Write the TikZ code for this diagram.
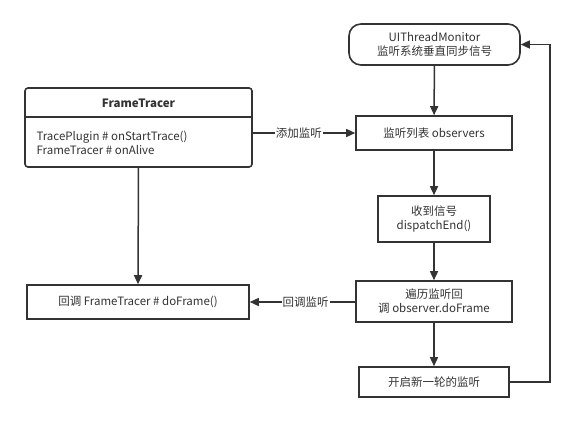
\documentclass[tikz,border=0pt]{standalone}
\usepackage{fontspec}
\setmainfont{Noto Sans CJK SC}
\usetikzlibrary{arrows.meta}
\definecolor{ink}{HTML}{333333}
\begin{document}
\begin{tikzpicture}[x=1pt,y=-1pt,
  box/.style={draw=ink,line width=1.6pt,fill=white,text=ink,align=center,inner sep=0pt,font=\fontsize{11.5}{14}\selectfont},
  conn/.style={draw=ink,line width=1.5pt,-{Triangle[length=9pt,width=8pt]}},
  lbl/.style={fill=white,text=ink,inner sep=1pt,font=\fontsize{11.5}{14}\selectfont}]
\useasboundingbox (0,0) rectangle (574,424);
\node[box,rounded corners=12pt,minimum width=171pt,minimum height=41pt] (mon) at (434.5,44.5) {UIThreadMonitor\\监听系统垂直同步信号};
\node[box,minimum width=156pt,minimum height=34pt] (obs) at (434,133) {监听列表 observers};
\node[box,minimum width=112pt,minimum height=46pt] (recv) at (434,219) {收到信号\\dispatchEnd()};
\node[box,minimum width=156pt,minimum height=41pt] (iter) at (434,301.5) {遍历监听回\\调 observer.doFrame};
\node[box,minimum width=150pt,minimum height=30pt] (next) at (434,382) {开启新一轮的监听};
\node[box,minimum width=222pt,minimum height=34pt] (cb) at (138,302) {回调 FrameTracer \# doFrame()};
\node[box,rounded corners=3pt,minimum width=227pt,minimum height=79pt] (ft) at (138.5,127.5) {};
\draw[ink,line width=1.6pt] (25,117) -- (252,117);
\node[text=ink,font=\fontsize{11.5}{14}\selectfont\bfseries] (fth) at (138.5,103) {FrameTracer};
\node[text=ink,align=left,anchor=west,font=\fontsize{11.5}{14}\selectfont] (ftb) at (33,143) {TracePlugin \# onStartTrace()\\FrameTracer \# onAlive};
\coordinate (c1) at (550,382);
\coordinate (c2) at (550,44.5);
\draw[conn] (mon) -- (obs);
\draw[conn] (obs) -- (recv);
\draw[conn] (recv) -- (iter);
\draw[conn] (iter) -- (next);
\draw[conn] (ft.south) -- (cb.north);
\draw[conn] (ft.east|-obs) -- node[lbl,pos=0.45]{添加监听} (obs.west);
\draw[conn] (iter.west|-cb) -- node[lbl,pos=0.47]{回调监听} (cb.east);
\draw[conn] (next.east) -- (c1) -- (c2) -- (mon.east);
\end{tikzpicture}
\end{document}
